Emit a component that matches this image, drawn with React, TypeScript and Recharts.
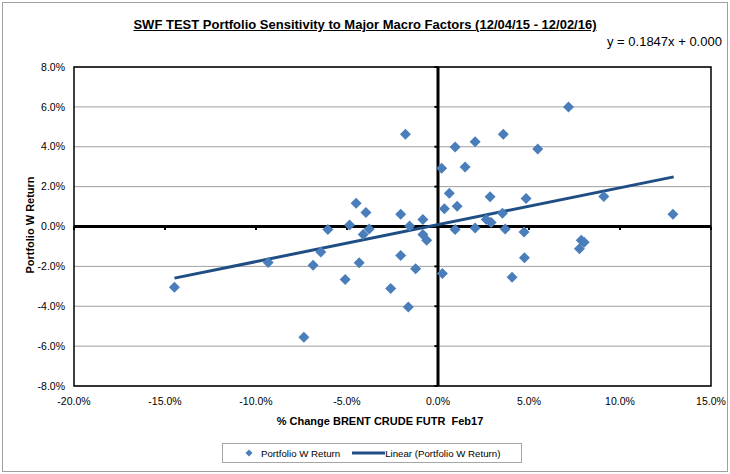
import React from 'react';
import { ScatterChart, Scatter, XAxis, YAxis, CartesianGrid, ReferenceLine, ReferenceArea } from 'recharts';

const xTicks = [-20, -15, -10, -5, 0, 5, 10, 15];
const yTicks = [-8, -6, -4, -2, 0, 2, 4, 6, 8];

const brentChange = [
  -14.48, -9.33, -7.37, -6.86, -6.44, -6.05, -5.10, -4.86, -4.50, -4.33,
  -4.11, -3.96, -3.78, -2.60, -2.05, -2.05, -1.79, -1.63, -1.56, -1.23,
  -0.83, -0.83, -0.62, 0.20, 0.24, 0.35, 0.62, 0.94, 0.94, 1.05,
  1.49, 2.04, 2.04, 2.65, 2.92, 2.86, 3.54, 3.59, 3.69, 4.07,
  4.73, 4.75, 4.84, 5.48, 7.17, 7.77, 7.87, 8.03, 9.11, 12.91,
];
const portfolioReturn = [
  -3.05, -1.80, -5.55, -1.94, -1.28, -0.15, -2.66, 0.08, 1.16, -1.82,
  -0.40, 0.70, -0.12, -3.11, 0.62, -1.45, 4.63, -4.04, 0.02, -2.12,
  0.35, -0.40, -0.69, 2.92, -2.36, 0.89, 1.67, 3.99, -0.15, 1.02,
  2.99, 4.25, -0.07, 0.35, 0.20, 1.49, 0.66, 4.63, -0.13, -2.54,
  -0.27, -1.57, 1.40, 3.89, 6.00, -1.12, -0.69, -0.79, 1.50, 0.62,
];

const trendX = [-14.48, 12.95];
const trendY = [-2.59, 2.49];

const seriesName = 'Portfolio W Return';
const trendName = 'Linear (Portfolio W Return)';
const chartTitle = 'SWF TEST Portfolio Sensitivity to Major Macro Factors (12/04/15 - 12/02/16)';
const equation = 'y = 0.1847x + 0.000';
const xTitle = '% Change BRENT CRUDE FUTR  Feb17';
const yTitle = 'Portfolio W Return';

const points = brentChange.map((x, i) => ({ x, y: portfolioReturn[i] }));
const trend = trendX.map((x, i) => ({ x, y: trendY[i] }));

const MARKER = '#4a7ebb';
const TREND = '#1f4e85';
const SANS = '"Liberation Sans", Arial, sans-serif';

const Diamond = (props: any) => {
  const { cx, cy } = props;
  if (cx == null || cy == null) return null;
  const r = 5.5;
  return (
    <polygon
      points={`${cx},${cy - r} ${cx + r},${cy} ${cx},${cy + r} ${cx - r},${cy}`}
      fill={MARKER}
    />
  );
};

export default function App() {
  return (
    <div style={{ position: 'absolute', left: 0, top: 0, width: 730, height: 474, background: '#fff', overflow: 'hidden' }}>
      <div
        style={{
          position: 'absolute', left: 2, top: 2, width: 726, height: 470,
          border: '1px solid #a0a0a0', boxSizing: 'border-box',
        }}
      />
      <ScatterChart
        width={730}
        height={474}
        margin={{ top: 67, right: 19, bottom: 58, left: 14 }}
        style={{ position: 'absolute', left: 0, top: 0 }}
      >
        <CartesianGrid vertical={false} stroke="#a0a0a0" strokeWidth={1} />
        <XAxis
          type="number"
          dataKey="x"
          domain={[-20, 15]}
          ticks={xTicks}
          allowDataOverflow
          height={30}
          axisLine={false}
          tickLine={false}
          tickSize={0}
          tickMargin={12}
          tickFormatter={(v: number) => `${v.toFixed(1)}%`}
          tick={{ fill: '#000', fontSize: 10.5, fontFamily: SANS }}
        />
        <YAxis
          type="number"
          dataKey="y"
          domain={[-8, 8]}
          ticks={yTicks}
          allowDataOverflow
          width={60}
          axisLine={false}
          tickLine={false}
          tickSize={0}
          tickMargin={9}
          tickFormatter={(v: number) => `${v.toFixed(1)}%`}
          tick={{ fill: '#000', fontSize: 10.5, fontFamily: SANS }}
        />
        <ReferenceArea x1={-20} x2={15} y1={-8} y2={8} fill="none" stroke="#000" strokeWidth={1.5} ifOverflow="visible" />
        <ReferenceLine y={0} stroke="#000" strokeWidth={3} ifOverflow="visible" />
        <ReferenceLine x={0} stroke="#000" strokeWidth={3} ifOverflow="visible" />
        {xTicks.map((t) => (
          <ReferenceLine
            key={`xt${t}`}
            segment={[{ x: t, y: 0 }, { x: t, y: -0.17 }]}
            stroke="#000"
            strokeWidth={2}
            ifOverflow="visible"
          />
        ))}
        {yTicks.map((t) => (
          <ReferenceLine
            key={`yt${t}`}
            segment={[{ x: -0.2, y: t }, { x: 0, y: t }]}
            stroke="#000"
            strokeWidth={2}
            ifOverflow="visible"
          />
        ))}
        <Scatter
          name={trendName}
          data={trend}
          line={{ stroke: TREND, strokeWidth: 3 }}
          shape={() => null}
          isAnimationActive={false}
        />
        <Scatter
          name={seriesName}
          data={points}
          shape={Diamond}
          fill={MARKER}
          isAnimationActive={false}
        />
      </ScatterChart>
      <div
        style={{
          position: 'absolute', left: 222, top: 443, width: 300, height: 20,
          border: '1px solid #a6a6a6', boxSizing: 'border-box', background: '#fff',
          display: 'flex', alignItems: 'center', whiteSpace: 'nowrap',
          fontFamily: SANS, fontSize: 9.7, color: '#000',
        }}
      >
        <svg width={38} height={18} style={{ flex: 'none' }}>
          <polygon points="26,5.5 29.5,9 26,12.5 22.5,9" fill={MARKER} />
        </svg>
        <span style={{ marginRight: 12 }}>{seriesName}</span>
        <svg width={33} height={18} style={{ flex: 'none' }}>
          <line x1={0} y1={9} x2={33} y2={9} stroke={TREND} strokeWidth={3} />
        </svg>
        <span>{trendName}</span>
      </div>
      <div
        style={{
          position: 'absolute', left: 0, width: 730, top: 17, textAlign: 'center',
          fontFamily: SANS, fontWeight: 'bold', fontSize: 13, textDecoration: 'underline', color: '#000',
          whiteSpace: 'nowrap',
        }}
      >
        {chartTitle}
      </div>
      <div
        style={{
          position: 'absolute', left: 607, top: 34, whiteSpace: 'nowrap',
          fontFamily: SANS, fontSize: 13, color: '#000',
        }}
      >
        {equation}
      </div>
      <div
        style={{
          position: 'absolute', left: 0, width: 760, top: 415, textAlign: 'center',
          fontFamily: SANS, fontWeight: 'bold', fontSize: 11, color: '#000', whiteSpace: 'pre',
        }}
      >
        {xTitle}
      </div>
      <div
        style={{
          position: 'absolute', left: 30, top: 225, width: 0, height: 0,
        }}
      >
        <div
          style={{
            position: 'absolute', left: 0, top: 0, transform: 'translate(-50%, -50%) rotate(-90deg)',
            whiteSpace: 'nowrap', fontFamily: SANS, fontWeight: 'bold', fontSize: 11, color: '#000',
          }}
        >
          {yTitle}
        </div>
      </div>
    </div>
  );
}
